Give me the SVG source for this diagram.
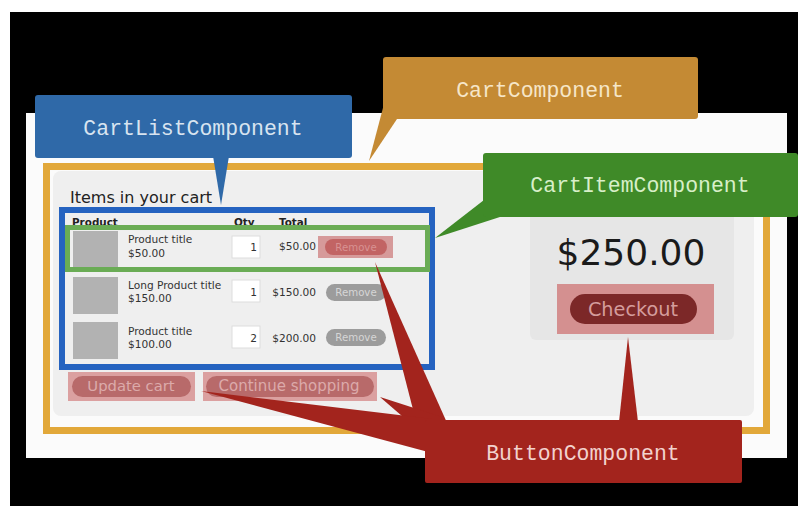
<svg xmlns="http://www.w3.org/2000/svg" width="798" height="506" viewBox="0 0 798 506">
<style>
.ui{font-family:"DejaVu Sans","Liberation Sans",sans-serif;}
.lbl{font-family:"Courier New","Liberation Mono",monospace;font-size:21.5px;text-anchor:middle;}
.hdr{font-family:"DejaVu Sans",sans-serif;font-weight:bold;font-size:10.4px;fill:#222;}
.it{font-family:"DejaVu Sans",sans-serif;font-size:10.6px;fill:#333;}
.thumb{fill:#b2b2b2;}
.qty{fill:#ffffff;stroke:#dddddd;stroke-width:1;}
.rm{fill:#9c9c9c;}
.rmt{font-family:"DejaVu Sans",sans-serif;font-size:10.2px;fill:#d6d6d6;text-anchor:middle;}
.red{fill:#a3241d;}
</style>
<rect width="798" height="506" fill="#ffffff"/>
<rect x="10" y="12" width="788" height="494" fill="#000000"/>
<g id="page">
<rect x="26" y="113" width="761" height="345" fill="#fbfbfb"/>
</g>
<g id="cart-component-frame">
<rect x="46.5" y="166.5" width="720" height="264" fill="none" stroke="#e2a83a" stroke-width="7"/>
<rect x="53" y="171" width="701" height="245" rx="8" fill="#efefef"/>
<text class="ui" x="70" y="203" font-size="16" fill="#222">Items in your cart</text>
</g>
<g id="cart-list">
<text class="hdr" x="72" y="226">Product</text>
<text class="hdr" x="234" y="226">Qty</text>
<text class="hdr" x="279" y="226">Total</text>
<rect class="thumb" x="73" y="231" width="45" height="37"/>
<text class="it" x="128" y="243">Product title</text>
<text class="it" x="128" y="257">$50.00</text>
<rect class="qty" x="232" y="236" width="28" height="22"/>
<text class="it" x="257" y="251" text-anchor="end">1</text>
<text class="it" x="316" y="250" text-anchor="end">$50.00</text>
<rect x="318" y="236" width="75" height="22" fill="#d69a9a"/>
<rect x="325" y="239" width="62" height="16" rx="8" fill="#c26464"/>
<text class="rmt" x="356" y="251" style="fill:#d89292">Remove</text>
<rect class="thumb" x="73" y="277" width="45" height="37"/>
<text class="it" x="128" y="289">Long Product title</text>
<text class="it" x="128" y="302">$150.00</text>
<rect class="qty" x="232" y="280" width="28" height="22"/>
<text class="it" x="257" y="296" text-anchor="end">1</text>
<text class="it" x="316" y="296" text-anchor="end">$150.00</text>
<rect class="rm" x="326" y="284" width="60" height="17" rx="8.5"/>
<text class="rmt" x="356" y="296">Remove</text>
<rect class="thumb" x="73" y="322" width="45" height="37"/>
<text class="it" x="128" y="335">Product title</text>
<text class="it" x="128" y="348">$100.00</text>
<rect class="qty" x="232" y="326" width="28" height="22"/>
<text class="it" x="257" y="342" text-anchor="end">2</text>
<text class="it" x="316" y="342" text-anchor="end">$200.00</text>
<rect class="rm" x="326" y="329" width="60" height="17" rx="8.5"/>
<text class="rmt" x="356" y="341">Remove</text>
<rect x="62" y="210" width="370" height="157" fill="none" stroke="#2563c0" stroke-width="6"/>
<rect x="67.5" y="227.5" width="360" height="42" fill="none" stroke="#6aac55" stroke-width="5"/>
</g>
<g id="cart-buttons">
<rect x="68" y="372" width="127" height="29" fill="#dba0a0"/>
<rect x="72" y="376" width="119" height="21" rx="10.5" fill="#b86a6a"/>
<text class="ui" x="131" y="391" font-size="14.8" fill="#dcaaaa" text-anchor="middle">Update cart</text>
<rect x="203" y="372" width="174" height="29" fill="#dba0a0"/>
<rect x="206" y="376" width="168" height="21" rx="10.5" fill="#b86a6a"/>
<text class="ui" x="289" y="391" font-size="15" fill="#dcaaaa" text-anchor="middle">Continue shopping</text>
</g>
<g id="summary">
<rect x="530" y="200" width="204" height="140" rx="6" fill="#e6e6e6"/>
<text class="ui" x="631" y="265" font-size="36" fill="#1a1a1a" text-anchor="middle">$250.00</text>
<rect x="557" y="284" width="157" height="50" fill="#d49090"/>
<rect x="570" y="294" width="127" height="30" rx="15" fill="#7c2828"/>
<text class="ui" x="633" y="316" font-size="19.3" fill="#d49c9c" text-anchor="middle">Checkout</text>
</g>
<g id="connectors">
<polygon fill="#2f69a8" points="213,156 221,205 229,156"/>
<polygon fill="#c48a34" points="384,104 369,161 397,119"/>
<polygon fill="#3f8a28" points="484,200 435,238 503,216"/>
<polygon class="red" points="375,262 417,425 448,425"/>
<polygon class="red" points="380,397 442,417 432,442"/>
<polygon class="red" points="201,391 432,419 432,453"/>
<polygon class="red" points="628,337 619,422 638,422"/>
</g>
<g id="CartListComponent">
<rect x="35" y="95" width="317" height="63" rx="3" fill="#2f69a8"/>
<text class="lbl" x="193" y="135" fill="#d8e4f0">CartListComponent</text>
</g>
<g id="CartComponent">
<rect x="383" y="57" width="315" height="62" rx="3" fill="#c48a34"/>
<text class="lbl" x="540" y="97" fill="#f6e6c8">CartComponent</text>
</g>
<g id="CartItemComponent">
<rect x="483" y="153" width="315" height="64" rx="3" fill="#3f8a28"/>
<text class="lbl" x="640" y="192" fill="#d8efc8">CartItemComponent</text>
</g>
<g id="ButtonComponent">
<rect x="425" y="420" width="317" height="63" rx="2" fill="#a3241d"/>
<text class="lbl" x="583" y="460" fill="#f2d2ce">ButtonComponent</text>
</g>
</svg>
